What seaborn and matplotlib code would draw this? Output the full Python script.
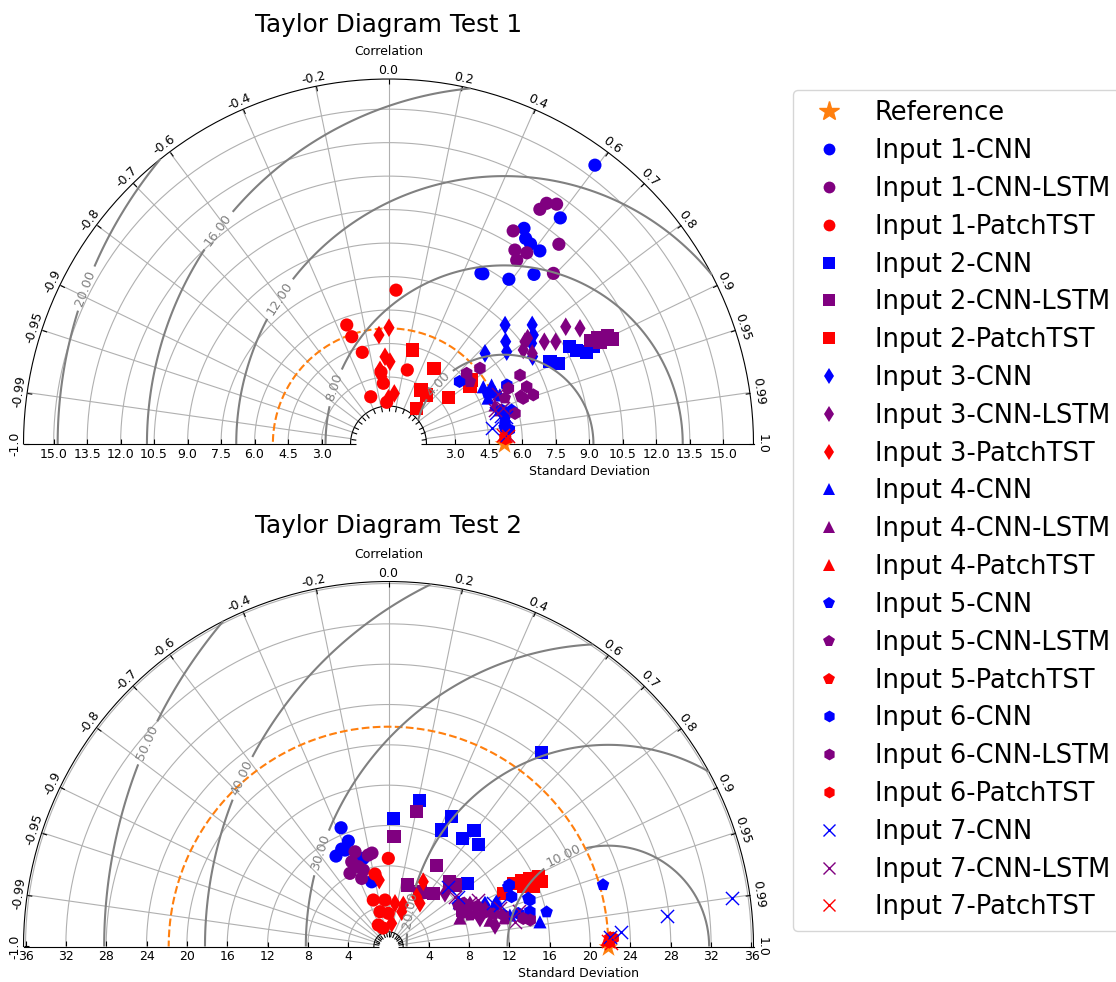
import numpy as np
import matplotlib
matplotlib.use("Agg")
import matplotlib.pyplot as plt
import seaborn as sns
from matplotlib.projections import PolarAxes
from matplotlib.lines import Line2D
import mpl_toolkits.axisartist.floating_axes as FA
import mpl_toolkits.axisartist.grid_finder as GF

# ------------------------------------------------------------------ data
corr_ticks = [0.0, 0.2, 0.4, 0.6, 0.7, 0.8, 0.9, 0.95, 0.99, 1.0]

t1_ref_std = 5.18
t1_std_ticks = [3.0, 4.5, 6.0, 7.5, 9.0, 10.5, 12.0, 13.5, 15.0]
t1_rms_levels = [4, 8, 12, 16, 20]
t1_srange = [1.70, 16.35]

t2_ref_std = 21.8
t2_std_ticks = [4, 8, 12, 16, 20, 24, 28, 32, 36]
t2_rms_levels = [10, 20, 30, 40, 50]
t2_srange = [1.45, 36.2]

inputs = ["Input 1", "Input 2", "Input 3", "Input 4", "Input 5", "Input 6", "Input 7"]
models = ["CNN", "CNN-LSTM", "PatchTST"]
input_markers = ["o", "s", "d", "^", "p", "h", "x"]
model_colors = ["blue", "purple", "red"]

# ---- Test 1 (std, corr)
t1_in1_cnn_std = [15.54, 12.72, 11.41, 11.07, 10.99, 10.99, 8.70, 8.72, 9.14, 10.01]
t1_in1_cnn_corr = [0.595, 0.605, 0.532, 0.555, 0.579, 0.617, 0.476, 0.485, 0.590, 0.651]
t1_in1_lstm_std = [12.51, 12.90, 13.12, 11.06, 10.37, 10.57, 10.04, 11.76, 10.63]
t1_in1_lstm_corr = [0.542, 0.549, 0.574, 0.505, 0.546, 0.586, 0.572, 0.649, 0.695]
t1_in1_ptst_std = [6.90, 5.65, 5.08, 4.27, 3.42, 2.26, 3.24, 2.73, 1.87]
t1_in1_ptst_corr = [0.049, -0.331, -0.324, -0.275, 0.246, -0.352, -0.104, -0.085, -0.043]

t1_in2_cnn_std = [8.12, 8.42, 9.22, 9.42, 9.79, 10.15, 10.42]
t1_in2_cnn_corr = [0.891, 0.903, 0.881, 0.895, 0.907, 0.903, 0.895]
t1_in2_lstm_std = [10.16, 10.50, 10.72, 10.95, 11.06, 10.50]
t1_in2_lstm_corr = [0.889, 0.890, 0.896, 0.897, 0.905, 0.902]
t1_in2_ptst_std = [4.34, 3.95, 2.82, 2.78, 2.04, 3.39, 4.70, 4.46]
t1_in2_ptst_corr = [0.245, 0.515, 0.516, 0.615, 0.620, 0.791, 0.793, 0.818]

t1_in3_cnn_std = [7.46, 6.97, 8.36, 8.12, 5.93, 6.72, 7.84, 7.55]
t1_in3_cnn_corr = [0.700, 0.753, 0.770, 0.799, 0.729, 0.788, 0.818, 0.855]
t1_in3_lstm_std = [9.52, 10.02, 8.35, 8.78, 7.83, 7.36, 7.61, 7.64]
t1_in3_lstm_corr = [0.834, 0.856, 0.836, 0.853, 0.796, 0.820, 0.846, 0.800]
t1_in3_ptst_std = [4.90, 5.21, 3.91, 3.69, 3.34, 2.28, 3.03, 2.05]
t1_in3_ptst_corr = [-0.087, 0.004, -0.040, 0.018, -0.114, 0.114, -0.100, 0.000]

t1_in4_cnn_std = [4.96, 5.32, 5.31, 5.45, 4.91]
t1_in4_cnn_corr = [0.856, 0.868, 0.899, 0.915, 0.908]
t1_in4_lstm_std = [5.08, 5.22]
t1_in4_lstm_corr = [0.939, 0.956]
t1_in4_ptst_std = [5.20, 5.28]
t1_in4_ptst_corr = [0.997, 0.998]

t1_in5_cnn_std = [4.99, 5.72, 5.35, 5.25]
t1_in5_cnn_corr = [0.890, 0.964, 0.975, 0.990]
t1_in5_lstm_std = [4.59, 6.30, 5.60]
t1_in5_lstm_corr = [0.794, 0.940, 0.930]
t1_in5_ptst_std = [5.22]
t1_in5_ptst_corr = [0.998]

t1_in6_cnn_std = [4.24, 5.92, 5.29, 5.30, 5.45]
t1_in6_cnn_corr = [0.751, 0.895, 0.958, 0.985, 0.993]
t1_in6_lstm_std = [4.72, 5.32, 6.65, 5.92, 6.70, 6.85, 5.83, 6.37]
t1_in6_lstm_corr = [0.742, 0.770, 0.886, 0.907, 0.924, 0.947, 0.972, 0.947]
t1_in6_ptst_std = [5.25]
t1_in6_ptst_corr = [0.999]

t1_in7_cnn_std = [4.67, 5.31, 5.00, 5.20, 5.40]
t1_in7_cnn_corr = [0.988, 0.997, 0.960, 0.970, 0.975]
t1_in7_lstm_std = [5.01, 5.38, 5.38]
t1_in7_lstm_corr = [0.953, 0.955, 0.910]
t1_in7_ptst_std = [5.15, 5.35]
t1_in7_ptst_corr = [0.997, 0.998]

# ---- Test 2 (std, corr)
t2_in1_cnn_std = [12.68, 11.19, 10.72, 10.37, 9.09, 6.63, 10.49]
t2_in1_cnn_corr = [-0.371, -0.356, -0.433, -0.502, -0.275, -0.251, -0.411]
t2_in1_lstm_std = [9.96, 9.29, 9.41, 9.16, 8.46, 8.20, 7.26, 7.98]
t2_in1_lstm_corr = [-0.333, -0.216, -0.174, -0.398, -0.354, -0.466, -0.366, -0.313]
t2_in1_ptst_std = [8.74, 7.31, 4.85, 4.62, 3.55, 3.29, 2.36, 1.91]
t2_in1_ptst_corr = [-0.002, -0.183, -0.311, -0.075, -0.237, -0.006, -0.429, -0.285]

t2_in2_cnn_std = [24.48, 14.77, 12.71, 14.37, 12.69, 14.32, 13.00, 13.48, 10.01]
t2_in2_cnn_corr = [0.620, 0.207, 0.037, 0.436, 0.415, 0.592, 0.566, 0.660, 0.780]
t2_in2_lstm_std = [13.65, 10.89, 9.38, 6.39, 6.89, 8.81, 8.98, 6.24]
t2_in2_lstm_corr = [0.205, 0.050, 0.509, 0.298, 0.644, 0.684, 0.734, 0.500]
t2_in2_ptst_std = [13.86, 14.76, 15.57, 16.38, 16.49, 15.53, 14.62, 12.54]
t2_in2_ptst_corr = [0.892, 0.895, 0.901, 0.906, 0.921, 0.924, 0.914, 0.907]

t2_in3_cnn_std = [10.41, 11.23, 11.50]
t2_in3_cnn_corr = [0.919, 0.940, 0.930]
t2_in3_lstm_std = [7.69, 9.07, 10.23, 9.50, 10.77]
t2_in3_lstm_corr = [0.728, 0.891, 0.935, 0.955, 0.981]
t2_in3_ptst_std = [6.65, 4.33, 4.37, 3.69, 5.67, 5.30, 7.29, 2.32]
t2_in3_ptst_corr = [-0.137, 0.149, 0.336, 0.355, 0.493, 0.589, 0.473, 0.137]

t2_in4_cnn_std = [15.22, 8.25, 12.44]
t2_in4_cnn_corr = [0.987, 0.850, 0.968]
t2_in4_lstm_std = [9.23, 11.89, 7.63, 10.40]
t2_in4_lstm_corr = [0.929, 0.971, 0.929, 0.968]
t2_in4_ptst_std = [21.70]
t2_in4_ptst_corr = [0.9995]

t2_in5_cnn_std = [22.14, 16.05, 13.27, 14.66]
t2_in5_cnn_corr = [0.961, 0.977, 0.895, 0.945]
t2_in5_lstm_std = [8.49, 10.90, 14.30, 8.66, 8.02]
t2_in5_lstm_corr = [0.893, 0.955, 0.980, 0.933, 0.859]
t2_in5_ptst_std = [22.00]
t2_in5_ptst_corr = [0.9992]

t2_in6_cnn_std = [13.44, 14.76, 14.44, 13.28, 13.17]
t2_in6_cnn_corr = [0.891, 0.950, 0.971, 0.969, 0.927]
t2_in6_lstm_std = [8.56, 7.97, 9.59, 10.33, 11.80, 13.65, 14.30]
t2_in6_lstm_corr = [0.866, 0.911, 0.911, 0.942, 0.964, 0.979, 0.983]
t2_in6_ptst_std = [21.90, 22.30]
t2_in6_ptst_corr = [0.9998, 0.9993]

t2_in7_cnn_std = [34.37, 27.74, 23.09, 21.97, 8.38, 8.50, 11.23, 11.79]
t2_in7_cnn_corr = [0.990, 0.994, 0.998, 0.999, 0.707, 0.814, 0.924, 0.937]
t2_in7_lstm_std = [9.16, 11.69, 13.40, 8.20, 10.00, 12.77]
t2_in7_lstm_corr = [0.882, 0.945, 0.964, 0.800, 0.887, 0.982]
t2_in7_ptst_std = [21.80, 22.10]
t2_in7_ptst_corr = [0.9997, 0.9999]

t1_series = [
    (t1_in1_cnn_std, t1_in1_cnn_corr), (t1_in1_lstm_std, t1_in1_lstm_corr), (t1_in1_ptst_std, t1_in1_ptst_corr),
    (t1_in2_cnn_std, t1_in2_cnn_corr), (t1_in2_lstm_std, t1_in2_lstm_corr), (t1_in2_ptst_std, t1_in2_ptst_corr),
    (t1_in3_cnn_std, t1_in3_cnn_corr), (t1_in3_lstm_std, t1_in3_lstm_corr), (t1_in3_ptst_std, t1_in3_ptst_corr),
    (t1_in4_cnn_std, t1_in4_cnn_corr), (t1_in4_lstm_std, t1_in4_lstm_corr), (t1_in4_ptst_std, t1_in4_ptst_corr),
    (t1_in5_cnn_std, t1_in5_cnn_corr), (t1_in5_lstm_std, t1_in5_lstm_corr), (t1_in5_ptst_std, t1_in5_ptst_corr),
    (t1_in6_cnn_std, t1_in6_cnn_corr), (t1_in6_lstm_std, t1_in6_lstm_corr), (t1_in6_ptst_std, t1_in6_ptst_corr),
    (t1_in7_cnn_std, t1_in7_cnn_corr), (t1_in7_lstm_std, t1_in7_lstm_corr), (t1_in7_ptst_std, t1_in7_ptst_corr),
]
t2_series = [
    (t2_in1_cnn_std, t2_in1_cnn_corr), (t2_in1_lstm_std, t2_in1_lstm_corr), (t2_in1_ptst_std, t2_in1_ptst_corr),
    (t2_in2_cnn_std, t2_in2_cnn_corr), (t2_in2_lstm_std, t2_in2_lstm_corr), (t2_in2_ptst_std, t2_in2_ptst_corr),
    (t2_in3_cnn_std, t2_in3_cnn_corr), (t2_in3_lstm_std, t2_in3_lstm_corr), (t2_in3_ptst_std, t2_in3_ptst_corr),
    (t2_in4_cnn_std, t2_in4_cnn_corr), (t2_in4_lstm_std, t2_in4_lstm_corr), (t2_in4_ptst_std, t2_in4_ptst_corr),
    (t2_in5_cnn_std, t2_in5_cnn_corr), (t2_in5_lstm_std, t2_in5_lstm_corr), (t2_in5_ptst_std, t2_in5_ptst_corr),
    (t2_in6_cnn_std, t2_in6_cnn_corr), (t2_in6_lstm_std, t2_in6_lstm_corr), (t2_in6_ptst_std, t2_in6_ptst_corr),
    (t2_in7_cnn_std, t2_in7_cnn_corr), (t2_in7_lstm_std, t2_in7_lstm_corr), (t2_in7_ptst_std, t2_in7_ptst_corr),
]

# contour-label anchor points (theta [rad], radius) — layout only
t1_label_pos = [(1.066, 3.6), (2.333, 3.5), (2.208, 8.0), (2.244, 12.25), (2.665, 15.0)]
t2_label_pos = [(0.492, 19.6), (1.038, 4.2), (2.191, 11.4), (2.287, 22.15), (2.439, 31.2)]

REF_COLOR = "#ff7f0e"
SMALL_FS = 9
MARK_S = 90


def taylor(fig, rect, refstd, srange, std_ticks, fmt, levels, series, label_pos):
    tr = PolarAxes.PolarTransform(apply_theta_transforms=False)
    rl = np.array(corr_ticks)
    rlocs = np.concatenate((-rl[:0:-1], rl))
    tlocs = np.arccos(rlocs)
    gl1 = GF.FixedLocator(tlocs)
    tf1 = GF.DictFormatter(dict(zip(tlocs, map(str, rlocs))))
    gl2 = GF.FixedLocator(std_ticks)
    tf2 = GF.DictFormatter({v: fmt % v for v in std_ticks})
    gh = FA.GridHelperCurveLinear(tr, extremes=(0, np.pi, srange[0], srange[1]),
                                  grid_locator1=gl1, tick_formatter1=tf1,
                                  grid_locator2=gl2, tick_formatter2=tf2)
    ax = FA.FloatingAxes(fig, rect, grid_helper=gh)
    fig.add_axes(ax)

    ax.axis["top"].set_axis_direction("bottom")
    ax.axis["top"].toggle(ticklabels=True, label=True)
    ax.axis["top"].major_ticklabels.set_axis_direction("top")
    ax.axis["top"].label.set_axis_direction("top")
    ax.axis["top"].label.set_text("Correlation")

    ax.axis["left"].set_axis_direction("bottom")
    ax.axis["left"].label.set_text("Standard Deviation")

    ax.axis["right"].set_axis_direction("top")
    ax.axis["right"].toggle(ticklabels=True)
    ax.axis["right"].major_ticklabels.set_axis_direction("bottom")

    ax.axis["bottom"].toggle(ticklabels=False, label=False)

    for k in ["top", "left", "right"]:
        ax.axis[k].major_ticklabels.set_fontsize(SMALL_FS)
        ax.axis[k].label.set_fontsize(SMALL_FS)
    ax.grid(True, color="#b0b0b0", linewidth=0.8)

    aux = ax.get_aux_axes(tr)

    # reference
    t = np.linspace(0, np.pi, 200)
    aux.plot(t, np.full_like(t, refstd), ls="--", color=REF_COLOR, lw=1.5, zorder=2)
    sns.scatterplot(x=[0.0], y=[refstd], ax=aux, marker="*", color=REF_COLOR,
                    s=220, linewidth=0, clip_on=False, legend=False, zorder=3)

    # samples
    idx = 0
    for mk in input_markers:
        for col in model_colors:
            std, corr = series[idx]
            idx += 1
            lw = 1.0 if mk == "x" else 0
            sns.scatterplot(x=np.arccos(np.array(corr)), y=np.array(std), ax=aux,
                            marker=mk, color=col, s=MARK_S, linewidth=lw,
                            edgecolor=col if mk == "x" else "none",
                            legend=False, zorder=3)

    # RMS contours
    rs, ts = np.meshgrid(np.linspace(srange[0], srange[1], 200), np.linspace(0, np.pi, 200))
    rms = np.sqrt(refstd ** 2 + rs ** 2 - 2 * refstd * rs * np.cos(ts))
    cs = aux.contour(ts, rs, rms, levels, colors="0.5", linewidths=1.5, zorder=4)
    aux.clabel(cs, inline=True, fontsize=9.3, fmt="%.2f", manual=label_pos)
    return ax


fig = plt.figure(figsize=(11.16, 9.82), dpi=100)
W, H = 1116.0, 982.0
cx, R = 388.5, 365.0
for (title, refstd, srange, ticks, fmt, levels, series, lpos, y0, ty) in [
    ("Taylor Diagram Test 1", t1_ref_std, t1_srange, t1_std_ticks, "%.1f", t1_rms_levels, t1_series,
     t1_label_pos, 444.0, 31.7),
    ("Taylor Diagram Test 2", t2_ref_std, t2_srange, t2_std_ticks, "%d", t2_rms_levels, t2_series,
     t2_label_pos, 946.5, 533.3),
]:
    half = R * 1.02
    rect = [(cx - half) / W, (H - (y0 + 0.01 * R)) / H, 2 * half / W, half / H]
    taylor(fig, rect, refstd, srange, ticks, fmt, levels, series, lpos)
    fig.text(cx / W, 1 - ty / H, title, ha="center", va="baseline", fontsize=17.7)

# legend
handles = [Line2D([], [], marker="*", color=REF_COLOR, ls="None", markersize=15, label="Reference")]
for i, mk in enumerate(input_markers):
    for j, col in enumerate(model_colors):
        handles.append(Line2D([], [], marker=mk, color=col, ls="None", markersize=8.5,
                              markeredgewidth=1.0 if mk == "x" else 0,
                              label=f"{inputs[i]}-{models[j]}"))
fig.legend(handles=handles, loc="upper left", bbox_to_anchor=(792.7 / W, 1 - 90 / H),
           fontsize=18.5, labelspacing=0.46, borderaxespad=0, frameon=True)

fig.savefig("out.png", dpi=100)
